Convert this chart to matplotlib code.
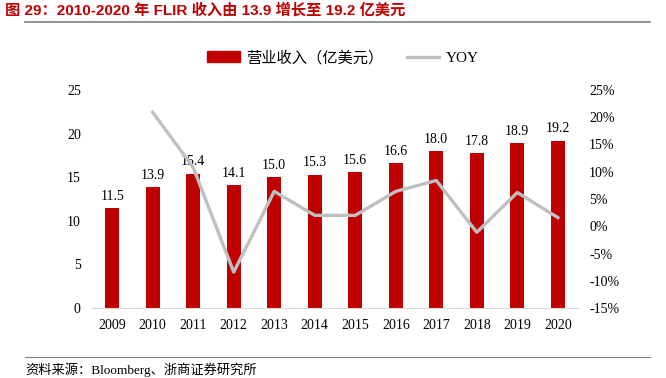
import matplotlib.pyplot as plt
from matplotlib.lines import Line2D
from matplotlib.patches import Patch

years = ['2009', '2010', '2011', '2012', '2013', '2014', '2015', '2016', '2017', '2018', '2019', '2020']
revenue = [11.5, 13.9, 15.4, 14.1, 15.0, 15.3, 15.6, 16.6, 18.0, 17.8, 18.9, 19.2]
yoy = [None, 20.9, 10.8, -8.4, 6.4, 2.0, 2.0, 6.4, 8.4, -1.1, 6.2, 1.6]

serif = ['Liberation Serif', 'Noto Sans CJK SC']
sans_bold = ['Liberation Sans', 'Noto Sans CJK SC']

fig = plt.figure(figsize=(6.66, 3.78), dpi=100)
ax = fig.add_axes([0.138, 0.185, 0.73, 0.577])
x = list(range(len(years)))
ax.bar(x, revenue, width=0.35, color='#C00000')
for xi, v in zip(x, revenue):
    ax.text(xi, v + 0.6, f'{v:.1f}', ha='center', va='bottom', fontsize=10, family=serif)
ax.set_ylim(0, 25)
ax.set_xlim(-0.5, len(years) - 0.5)
ax.set_yticks(range(0, 26, 5))
ax.set_xticks(x)
ax.set_xticklabels(years)
for s in ax.spines.values():
    s.set_visible(False)
ax.spines['bottom'].set_visible(True)
ax.spines['bottom'].set_color('#D9D9D9')
ax.tick_params(length=0, labelsize=10, pad=8)
for lab in ax.get_xticklabels() + ax.get_yticklabels():
    lab.set_family(serif)

ax2 = ax.twinx()
ax2.plot(x[1:], yoy[1:], color='#BFBFBF', linewidth=2.4)
ax2.set_ylim(-15, 25)
ax2.set_yticks(range(-15, 26, 5))
ax2.set_yticklabels([f'{t}%' for t in range(-15, 26, 5)])
for s in ax2.spines.values():
    s.set_visible(False)
ax2.tick_params(length=0, labelsize=10, pad=8)
for lab in ax2.get_yticklabels():
    lab.set_family(serif)

handles = [Patch(color='#C00000'), Line2D([0], [0], color='#BFBFBF', linewidth=2.4)]
fig.legend(handles, ['营业收入（亿美元）', 'YOY'], loc='center', bbox_to_anchor=(0.515, 0.847),
           ncol=2, frameon=False, prop={'family': serif, 'size': 11},
           handlelength=2.1, handleheight=0.7, handletextpad=0.4, columnspacing=1.6)

fig.text(0.008, 0.993, '图 29：2010-2020 年 FLIR 收入由 13.9 增长至 19.2 亿美元', color='#C00000',
         fontsize=11, fontweight='bold', family=sans_bold, va='top')
fig.add_artist(Line2D([0.0375, 0.976], [0.942, 0.942], color='#808080', linewidth=1.2))
fig.add_artist(Line2D([0.0375, 0.976], [0.056, 0.056], color='#808080', linewidth=0.8))
fig.text(0.0375, 0.021, '资料来源：Bloomberg、浙商证券研究所', fontsize=9.5, family=serif, va='center')

fig.savefig('out.png', dpi=100)
